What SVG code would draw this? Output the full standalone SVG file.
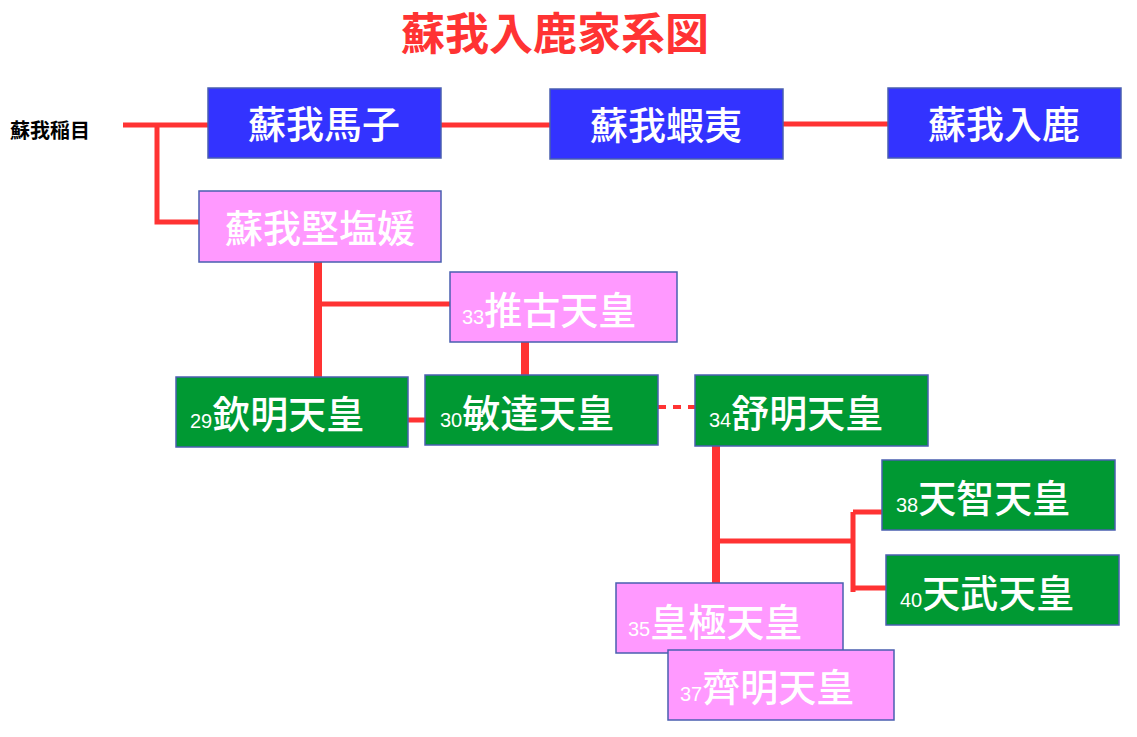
<svg xmlns="http://www.w3.org/2000/svg" width="1137" height="737" viewBox="0 0 1137 737">
<style>
text{font-family:"Noto Sans CJK JP","Liberation Sans",sans-serif}
.b{fill:#3333ff;stroke:#4a5fb0;stroke-width:1.5}
.p{fill:#ff99ff;stroke:#4a5fb0;stroke-width:1.5}
.g{fill:#009933;stroke:#4a5fb0;stroke-width:1.5}
.t{fill:#fff;font-size:38px;font-weight:500}
.n{fill:#fff;font-size:20px;font-family:"Liberation Sans",sans-serif}
.l{stroke:#ff3333;fill:none}
</style>
<rect width="1137" height="737" fill="#fff"/>
<text x="555" y="50" text-anchor="middle" fill="#ff3333" font-size="44" font-weight="bold">蘇我入鹿家系図</text>
<text x="10" y="138" font-size="20" font-weight="bold" fill="#000">蘇我稲目</text>
<g id="connectors">
<path class="l" stroke-width="5" d="M123 125H208M157 125V222H199M441 125H550M783 124H888"/>
<path class="l" stroke-width="8" d="M318 262V377M525 342V375M716 446V583"/>
<path class="l" stroke-width="5" d="M318 304H450M408 420H425M716 541H853M853 512V592M853 512H882M853 588H886"/>
<path class="l" stroke-width="4" stroke-dasharray="8,7" d="M658 407H695"/>
</g>
<g id="umako"><rect class="b" x="208" y="88" width="233" height="70"/><text class="t" x="324" y="138" text-anchor="middle">蘇我馬子</text></g>
<g id="emishi"><rect class="b" x="550" y="89" width="233" height="70"/><text class="t" x="666" y="139" text-anchor="middle">蘇我蝦夷</text></g>
<g id="iruka"><rect class="b" x="888" y="88" width="233" height="70"/><text class="t" x="1004" y="138" text-anchor="middle">蘇我入鹿</text></g>
<g id="kitashihime"><rect class="p" x="199" y="191" width="242" height="71"/><text class="t" x="320" y="242" text-anchor="middle">蘇我堅塩媛</text></g>
<g id="suiko"><rect class="p" x="450" y="272" width="227" height="70"/><text x="462" y="324"><tspan class="n">33</tspan><tspan class="t">推古天皇</tspan></text></g>
<g id="kinmei"><rect class="g" x="176" y="377" width="232" height="70"/><text x="190" y="428"><tspan class="n">29</tspan><tspan class="t">欽明天皇</tspan></text></g>
<g id="bidatsu"><rect class="g" x="425" y="375" width="233" height="70"/><text x="440" y="427"><tspan class="n">30</tspan><tspan class="t">敏達天皇</tspan></text></g>
<g id="jomei"><rect class="g" x="695" y="375" width="233" height="71"/><text x="709" y="427"><tspan class="n">34</tspan><tspan class="t">舒明天皇</tspan></text></g>
<g id="tenji"><rect class="g" x="882" y="460" width="233" height="70"/><text x="896" y="512"><tspan class="n">38</tspan><tspan class="t">天智天皇</tspan></text></g>
<g id="tenmu"><rect class="g" x="886" y="555" width="233" height="70"/><text x="900" y="607"><tspan class="n">40</tspan><tspan class="t">天武天皇</tspan></text></g>
<g id="kogyoku"><rect class="p" x="616" y="583" width="227" height="70"/><text x="628" y="636"><tspan class="n">35</tspan><tspan class="t">皇極天皇</tspan></text></g>
<g id="saimei"><rect class="p" x="668" y="650" width="226" height="70"/><text x="680" y="701"><tspan class="n">37</tspan><tspan class="t">齊明天皇</tspan></text></g>
</svg>
